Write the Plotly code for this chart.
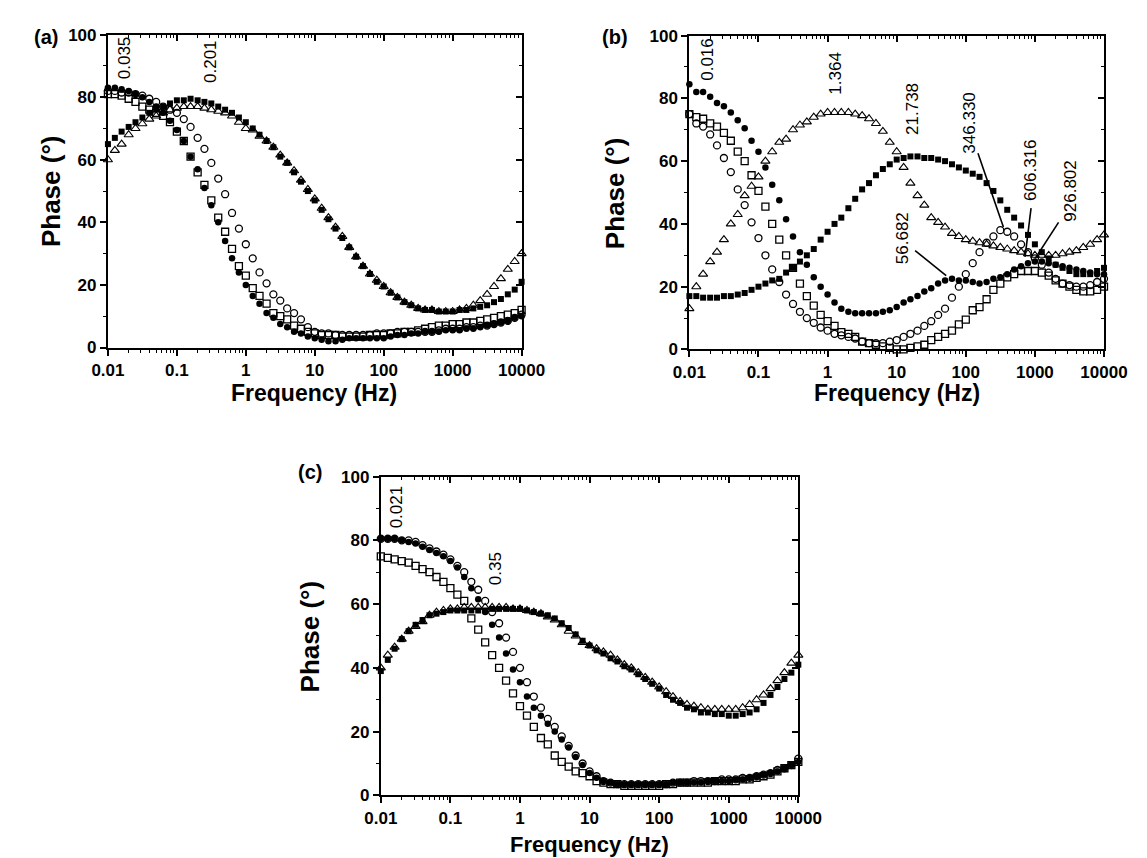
import math
import plotly.graph_objects as go

# ---------------- data ----------------
FREQ = [0.01, 0.0126, 0.0158, 0.02, 0.0251, 0.0316, 0.0398, 0.0501, 0.0631, 0.0794,
        0.1, 0.126, 0.158, 0.2, 0.251, 0.316, 0.398, 0.501, 0.631, 0.794,
        1, 1.26, 1.58, 2, 2.51, 3.16, 3.98, 5.01, 6.31, 7.94,
        10, 12.6, 15.8, 20, 25.1, 31.6, 39.8, 50.1, 63.1, 79.4,
        100, 126, 158, 200, 251, 316, 398, 501, 631, 794,
        1000, 1259, 1585, 1995, 2512, 3162, 3981, 5012, 6310, 7943, 10000]

X_TICKS = [0.01, 0.1, 1, 10, 100, 1000, 10000]
X_TICK_TEXT = ["0.01", "0.1", "1", "10", "100", "1000", "10000"]
Y_TICKS = [0, 20, 40, 60, 80, 100]

# panel (a)
A_SQ_FILL = [65, 67, 69, 70.5, 72, 73.5, 75, 76, 77, 78,
             79, 79, 79.5, 79, 78.5, 78, 77, 76, 75, 73.5,
             72, 70, 68, 66, 64, 61, 59, 56, 53, 50,
             47, 44, 41, 38, 35, 32, 29, 26, 23.5, 21,
             19.5, 17.5, 16, 14.5, 13.5, 12.5, 12, 12, 11.5, 11.5,
             11.5, 12, 12, 12.5, 13, 13.5, 14.5, 15.5, 17, 18.5, 21]
A_TRI = [60, 63, 65, 68, 70, 71.5, 73, 74, 75, 76,
         76.5, 77, 77, 77, 76.5, 76, 75.5, 75, 74, 72,
         70, 69.5, 67.5, 66, 64, 61.5, 59, 56.5, 53.5, 50.5,
         47.5, 44.5, 41.5, 38.5, 35.5, 32, 29, 26, 23.5, 21.5,
         19.5, 17.5, 16, 14.5, 13.5, 12.5, 12, 12, 11.5, 11.5,
         11.5, 12, 12.5, 13.5, 15, 17, 19.5, 22, 25, 27.5, 30]
A_CIR_FILL = [83, 83, 82.5, 82, 81, 80, 78.5, 77, 75, 72.5,
              69.5, 66, 61, 57, 51, 45.5, 40, 34, 28.5, 24,
              20, 16.5, 14, 11, 9.5, 7.5, 6.5, 5, 4.5, 3.5,
              3, 2.5, 2, 2, 2.5, 3, 3, 3, 3, 3,
              3, 3.5, 4, 4, 4.5, 4.5, 5, 5, 5, 5.5,
              5.5, 5.5, 6, 6, 6.5, 7, 7.5, 8, 8.5, 9.5, 10]
A_SQ_OPEN = [81, 81, 80.5, 79.5, 78.5, 77, 76, 75, 74, 72,
             69, 66, 61, 56, 52, 47, 41.5, 37, 31.5, 26,
             23, 19, 16.5, 14, 11, 10, 9, 7, 6, 5,
             4.5, 4, 4, 4, 3.5, 3.5, 3.5, 3.5, 4, 4,
             4, 4.5, 4.5, 5, 5, 5.5, 6, 6.5, 7, 7,
             7.5, 7.5, 8, 8, 8.5, 9, 9.5, 10, 10.5, 11, 12]
A_CIR_OPEN = [82, 82, 81.5, 81.5, 81, 80.5, 79.5, 78.5, 77, 76,
              75, 73, 70.5, 67, 63.5, 59, 54, 49, 43, 38,
              33, 28.5, 24, 20.5, 17, 15, 12.5, 11, 9, 6.5,
              5, 4.5, 4.5, 4, 4, 4, 4, 4, 4, 4.5,
              4.5, 4.5, 5, 5, 5, 5, 5, 5, 5.5, 6,
              6, 6, 6.5, 6.5, 7, 7, 7.5, 8, 8.5, 9.5, 10.5]

# panel (b)
B_SQ_FILL = [17, 17, 16.5, 16.5, 16.5, 17, 17, 17.5, 18, 19,
             20, 21, 22, 22.5, 24.5, 26, 28, 30, 32, 35,
             37.5, 40, 42, 45, 48, 51, 53, 55.5, 57.5, 59,
             60.5, 61, 61.5, 61.5, 61, 61, 60.5, 60, 59, 58,
             57, 56, 55, 53, 50.5, 47.5, 44.5, 42, 39.5, 36.5,
             33.5, 31, 29, 27, 26, 25, 24, 24, 24, 25, 26]
B_TRI = [13, 20, 24, 28, 31, 35, 40, 43, 49, 52,
         55, 60, 63, 66, 67, 70, 71.5, 72.5, 74, 75,
         75.5, 75.5, 75.5, 75.5, 75, 74.5, 73.5, 72, 69.5, 66,
         63, 58, 53, 49, 46, 42, 40.5, 39, 37, 36,
         35, 34.5, 34, 33.5, 33, 32.5, 32, 31.5, 31, 30.5,
         30, 30, 30, 30, 30.5, 31, 31.5, 32.5, 33.5, 35, 36.5]
B_CIR_FILL = [84.5, 82, 82, 80.5, 78.5, 77.5, 75.5, 73, 70.5, 66.5,
              63, 58, 52.5, 47.5, 41.5, 36, 31, 27, 23, 20,
              17.5, 15, 13, 12, 11.5, 11.5, 11.5, 11.5, 12, 12.5,
              13.5, 15, 16, 17, 18.5, 19.5, 21, 22, 22.5, 22,
              22, 21.5, 21, 21.5, 22.5, 23, 24, 25.5, 26.5, 27.5,
              28, 28, 27.5, 27, 26.5, 26, 25.5, 25, 24.5, 24, 24]
B_SQ_OPEN = [75, 74, 73.5, 72, 71, 69, 66.5, 63, 60, 55.5,
             50.5, 45.5, 40, 35, 30, 26, 21, 17, 14, 11,
             9, 7.5, 5.5, 5, 4, 2.5, 2, 1.5, 1, 0.5,
             0, 0, 0.5, 1, 1.5, 3, 4, 5, 6, 8,
             9.5, 12.5, 13.5, 16, 19, 21, 23, 24, 25, 25,
             25, 24.5, 23.5, 22, 21, 20, 19, 18.5, 18.5, 19, 20]
B_CIR_OPEN = [75, 72, 71, 68.5, 65, 61, 56.5, 51, 46, 40.5,
              35.5, 30, 25.5, 21.5, 17.5, 14.5, 12, 10, 8.5, 7,
              6, 5, 4.5, 4, 3.5, 2.5, 2, 2, 2, 2.5,
              3, 4, 5, 6, 7.5, 9, 11, 13, 16.5, 20,
              24, 27.5, 31, 34, 36, 38, 37.5, 36, 33.5, 31,
              29, 27, 24.5, 22.5, 21, 20.5, 20, 20, 20.5, 21.5, 22.5]

# panel (c)
C_CIR_FILL = [80.5, 80.5, 80.5, 80, 79.5, 79, 78, 77, 76, 75,
              73.5, 71.5, 68.5, 65, 61.5, 57.5, 53.5, 49.5, 44.5, 39.5,
              35.5, 31, 27.5, 25, 22.5, 20, 17.5, 15, 12, 9.5,
              7, 5.5, 4.5, 4, 3.5, 3.5, 3.5, 3.5, 3.5, 3.5,
              3.5, 3.5, 4, 4, 4, 4, 4, 4.5, 4.5, 4.5,
              4.5, 5, 5, 5.5, 6, 6.5, 7, 7.5, 8.5, 9.5, 10.5]
C_CIR_OPEN = [80.5, 80.5, 80.5, 80, 80, 79.5, 78.5, 77.5, 76.5, 75.5,
              74, 72, 70, 67, 64.5, 61, 57.5, 54, 49.5, 45,
              40, 35.5, 31, 27.5, 24, 21.5, 18.5, 15.5, 12.5, 10,
              7.5, 6, 4.5, 4, 3.5, 3.5, 3.5, 3.5, 3.5, 3.5,
              3.5, 3.5, 4, 4, 4, 4.5, 4.5, 4.5, 4.5, 5,
              5, 5, 5.5, 5.5, 6, 6.5, 7, 8, 8.5, 9.5, 11.5]
C_SQ_OPEN = [75, 74.5, 74, 73.5, 73, 72, 71, 70, 68.5, 67,
             65, 63, 61, 55.5, 52, 48, 44, 40, 36, 32,
             28, 25, 21.5, 18, 16, 12.5, 10.5, 9, 7.5, 7,
             6, 4.5, 4, 3.5, 3.5, 3, 3, 3, 3, 3,
             3, 3.5, 3.5, 4, 4, 4, 4, 4, 4.5, 4.5,
             4.5, 4.5, 5, 5, 5.5, 6, 6.5, 7.5, 8.5, 9.5, 10.5]
C_SQ_FILL = [39, 42.5, 46, 49, 51.5, 53.5, 55, 56.5, 57, 57.5,
             58, 58, 58, 58, 58, 58, 58.5, 58.5, 58.5, 58.5,
             58.5, 58, 57.5, 57, 56.5, 55.5, 54, 52.5, 50.5, 48.5,
             47, 45.5, 44.5, 43, 42, 40.5, 39.5, 38, 36.5, 35,
             33.5, 31.5, 30, 29, 27.5, 27, 26, 26, 25.5, 25.5,
             25, 25, 25.5, 26, 27, 29, 31.5, 34, 36.5, 38.5, 41]
C_TRI = [40, 44, 46.5, 49, 51.5, 53, 54.5, 56.5, 57.5, 58,
         58.5, 58.5, 59, 59, 59, 59, 59, 59, 59, 58.5,
         58.5, 58, 57.5, 57, 56, 55, 53.5, 51.5, 50, 48,
         47, 46, 45, 44, 42.5, 41, 40, 38.5, 37, 35.5,
         34, 32.5, 31, 29.5, 28.5, 28, 27.5, 27, 27, 27,
         27, 27, 27.5, 28.5, 30, 31.5, 33.5, 36, 38.5, 41.5, 44]

# rotated peak-frequency labels: (text, frequency, phase)
A_LABELS = [("0.035", 0.0172, 92.5), ("0.201", 0.3, 91.5)]
B_LABELS = [("0.016", 0.0178, 92.5), ("1.364", 1.3, 88), ("21.738", 17, 76.5),
            ("346.330", 112, 72), ("606.316", 860, 57), ("926.802", 3300, 50.5),
            ("56.682", 12, 35.5)]
C_LABELS = [("0.021", 0.0168, 90.5), ("0.35", 0.44, 71)]
# leader lines in panel (b): (f0, phase0, f1, phase1)
B_LEADERS = [(150, 62.5, 350, 39), (880, 45, 720, 29.5),
             (2200, 40.5, 1010, 29), (18.5, 31.5, 52, 23.5)]

# ---------------- layout helpers ----------------
W, H = 1147, 858


def px(x):
    return x / W


def py(y):
    return 1 - y / H


FONT = "Liberation Sans"
MINOR_X = [m * 10 ** e for e in range(-2, 4) for m in range(2, 10)]

fig = go.Figure()
layout = {}
annotations = []

STYLES = {
    "sq_fill": dict(symbol="square", size=6, color="black", line=dict(width=0)),
    "sq_open": dict(symbol="square-open", size=7, color="black", line=dict(width=1.3)),
    "cir_fill": dict(symbol="circle", size=6.5, color="black", line=dict(width=0)),
    "cir_open": dict(symbol="circle-open", size=7, color="black", line=dict(width=1.3)),
    "tri": dict(symbol="triangle-up-open", size=8, color="black", line=dict(width=1.1)),
}


def ax_name(kind, n):
    return kind + ("" if n == 1 else str(n))


def paper_text(text, xy, size, angle=0, bold=True):
    font = dict(family=FONT, size=size, color="black")
    if bold:
        font["weight"] = "bold"
    annotations.append(dict(text=text, x=px(xy[0]), y=py(xy[1]), xref="paper", yref="paper",
                            xanchor="center", yanchor="middle", showarrow=False,
                            textangle=angle, font=font))


def add_panel(n_main, box, series, labels, leaders, tag, ytitle_xy, xtitle_xy, tag_xy, xt_size=23):
    x0, y0, x1, y1 = box
    n_aux = n_main + 1
    xm, ym = ax_name("x", n_main), ax_name("y", n_main)
    xa, ya = ax_name("x", n_aux), ax_name("y", n_aux)
    dom_x = [px(x0), px(x1)]
    dom_y = [py(y1), py(y0)]
    tickfont = dict(family=FONT, size=17, color="black", weight="bold")
    layout[ax_name("xaxis", n_main)] = dict(
        domain=dom_x, anchor=ym, type="log", range=[-2, 4],
        tickvals=X_TICKS, ticktext=X_TICK_TEXT, ticks="outside", ticklen=6, tickwidth=1.5,
        tickcolor="black", showline=True, linecolor="black", linewidth=2, mirror=True,
        showgrid=False, zeroline=False, tickfont=tickfont,
        minor=dict(tickvals=MINOR_X, ticks="outside", ticklen=3, tickwidth=1.2, tickcolor="black"),
    )
    layout[ax_name("xaxis", n_aux)] = dict(
        domain=dom_x, anchor=ym, overlaying=xm, side="top", type="log", range=[-2, 4],
        tickvals=X_TICKS, ticks="inside", ticklen=6, tickwidth=1.5, tickcolor="black",
        showticklabels=False, showgrid=False, zeroline=False, showline=False,
        minor=dict(tickvals=MINOR_X, ticks="inside", ticklen=3, tickwidth=1.2, tickcolor="black"),
    )
    layout[ax_name("yaxis", n_main)] = dict(
        domain=dom_y, anchor=xm, range=[0, 100], tickvals=Y_TICKS, ticks="outside",
        ticklen=6, tickwidth=1.5, tickcolor="black", showline=True, linecolor="black",
        linewidth=2, mirror=True, showgrid=False, zeroline=False, tickfont=tickfont,
        minor=dict(dtick=10, ticks="outside", ticklen=3, tickwidth=1.2, tickcolor="black"),
    )
    layout[ax_name("yaxis", n_aux)] = dict(
        domain=dom_y, anchor=xm, overlaying=ym, side="right", range=[0, 100],
        tickvals=Y_TICKS, ticks="inside", ticklen=6, tickwidth=1.5, tickcolor="black",
        showticklabels=False, showgrid=False, zeroline=False, showline=False,
        minor=dict(dtick=10, ticks="inside", ticklen=3, tickwidth=1.2, tickcolor="black"),
    )
    # empty traces so the mirrored tick axes are drawn
    fig.add_trace(go.Scatter(x=[], y=[], xaxis=xa, yaxis=ym, showlegend=False, hoverinfo="skip"))
    fig.add_trace(go.Scatter(x=[], y=[], xaxis=xm, yaxis=ya, showlegend=False, hoverinfo="skip"))

    for style, vals in series:
        fig.add_trace(go.Scatter(x=FREQ, y=vals, mode="markers", marker=STYLES[style],
                                 xaxis=xm, yaxis=ym, showlegend=False, cliponaxis=False))
    for f0, p0, f1, p1 in leaders:
        fig.add_trace(go.Scatter(x=[f0, f1], y=[p0, p1], mode="lines",
                                 line=dict(color="black", width=1.6),
                                 xaxis=xm, yaxis=ym, showlegend=False))
    for text, f, p in labels:
        annotations.append(dict(text=text, x=math.log10(f), y=p, xref=xm, yref=ym,
                                xanchor="center", yanchor="middle",
                                showarrow=False, textangle=-90,
                                font=dict(family=FONT, size=17, color="black")))
    paper_text("Phase (°)", ytitle_xy, 26, angle=-90)
    paper_text("Frequency (Hz)", xtitle_xy, xt_size)
    paper_text(tag, tag_xy, 20)


add_panel(1, (86, 18, 515, 338),
          [("tri", A_TRI), ("sq_open", A_SQ_OPEN), ("cir_open", A_CIR_OPEN),
           ("sq_fill", A_SQ_FILL), ("cir_fill", A_CIR_FILL)],
          A_LABELS, [], "(a)", (27, 178), (300, 385), (22, 20))
add_panel(3, (689, 19, 1119, 340),
          [("tri", B_TRI), ("sq_open", B_SQ_OPEN), ("cir_open", B_CIR_OPEN),
           ("sq_fill", B_SQ_FILL), ("cir_fill", B_CIR_FILL)],
          B_LABELS, B_LEADERS, "(b)", (612, 180), (904, 385), (612, 20))
add_panel(5, (369, 470, 802, 796),
          [("tri", C_TRI), ("sq_open", C_SQ_OPEN), ("cir_open", C_CIR_OPEN),
           ("sq_fill", C_SQ_FILL), ("cir_fill", C_CIR_FILL)],
          C_LABELS, [], "(c)", (296, 633), (585, 846), (296, 465), xt_size=22)

fig.update_layout(
    width=W, height=H, margin=dict(l=0, r=0, t=0, b=0),
    paper_bgcolor="white", plot_bgcolor="white", showlegend=False,
    annotations=annotations, **layout,
)
fig.write_html("out.html")
